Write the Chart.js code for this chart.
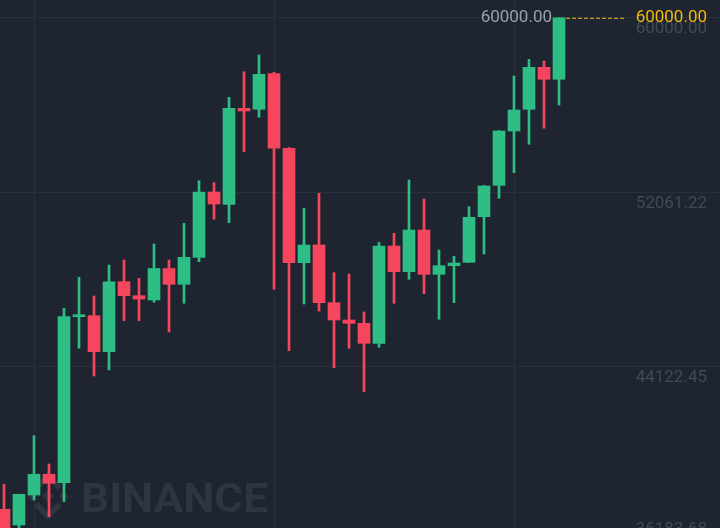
<!DOCTYPE html>
<html>
<head>
<meta charset="utf-8">
<script src="https://cdn.jsdelivr.net/npm/chart.js@4.4.0/dist/chart.umd.min.js"></script>
<style>
  html, body { margin: 0; padding: 0; background: #1e2430; }
  #wrap { width: 720px; height: 528px; position: relative; }
</style>
</head>
<body>
<div id="wrap"><canvas id="c"></canvas></div>
<script>
// ---- data ----
const opens  = [37642,36928,38292,39234,38852,46403,46449,44811,47995,47359,47163,48596,47877,49105,52076,51507,55883,55838,57466,54064,48860,49665,47040,46253,46103,45193,49619,48450,50347,48332,48723,48878,50952,52381,54851,55838,57748,57203];
const closes = [36700,38324,39234,38825,46403,46467,44811,47995,47359,47208,48596,47877,49105,52076,51530,55883,55761,57430,54064,48860,49665,47040,46253,46103,45193,49619,48450,50347,48332,48723,48846,50925,52349,54851,55806,57748,57203,60000];
const highs  = [38779,38330,40990,39703,46786,48196,47345,48755,48983,48150,49710,48983,50652,52590,52499,56384,57548,58308,57520,54100,51334,52017,48405,48346,46617,49788,50197,52622,51757,49437,49151,51407,52370,54870,57353,58112,58035,60000];
const lows   = [36250,36609,38065,37305,37988,44966,43706,43979,46221,46221,47058,45707,47013,48905,50834,50679,53909,55474,47650,44857,46981,46663,44083,44966,42992,45011,47013,48105,47450,46285,47040,48870,49256,51789,52954,54246,54974,56034];
const priceTicks  = [60000, 52061.22, 44122.45, 36183.68];
const priceLabels = ["60000.00", "52061.22", "44122.45", "36183.68"];
const timeGridIdx = [2, 18, 34];
const lastPrice = 60000;
const lastPriceLabel = "60000.00";
const highMarkLabel = "60000.00";

const UP = '#2ebd85', DOWN = '#f6465d';
const colorAt = (i) => closes[i] >= opens[i] ? UP : DOWN;

const bodyData = opens.map((o, i) => ({ x: i, y: [o, closes[i]] }));
const wickData = lows.map((l, i) => ({ x: i, y: [l, highs[i]] }));

const overlay = {
  id: 'overlay',
  beforeDatasetsDraw(chart) {
    const ctx = chart.ctx;
    ctx.save();
    // watermark logo
    ctx.translate(48, 496);
    ctx.fillStyle = '#2f353f';
    ctx.strokeStyle = '#2f353f';
    const diamond = (cx, cy, r) => {
      ctx.beginPath();
      ctx.moveTo(cx, cy - r); ctx.lineTo(cx + r, cy); ctx.lineTo(cx, cy + r); ctx.lineTo(cx - r, cy);
      ctx.closePath(); ctx.fill();
    };
    diamond(0, 0, 6);
    diamond(-16, 0, 5);
    diamond(16, 0, 5);
    ctx.lineWidth = 6; ctx.lineJoin = 'miter';
    ctx.beginPath(); ctx.moveTo(-12, -8); ctx.lineTo(0, -20); ctx.lineTo(12, -8); ctx.stroke();
    ctx.beginPath(); ctx.moveTo(-12, 8); ctx.lineTo(0, 20); ctx.lineTo(12, 8); ctx.stroke();
    ctx.restore();
    // watermark text
    ctx.save();
    ctx.font = 'bold 40px Roboto';
    ctx.fillStyle = '#2f353f';
    ctx.textBaseline = 'alphabetic';
    const w = ctx.measureText('BINANCE').width;
    ctx.translate(81, 512);
    ctx.scale(187 / w, 1);
    ctx.fillText('BINANCE', 0, 0);
    ctx.restore();
  },
  afterDatasetsDraw(chart) {
    const ctx = chart.ctx;
    const y = chart.scales.y, x = chart.scales.x;
    const H = chart.height;
    ctx.save();
    ctx.font = '17px Roboto';
    ctx.textAlign = 'right';
    ctx.textBaseline = 'middle';
    // axis labels
    ctx.fillStyle = '#434a55';
    priceTicks.forEach((v, i) => {
      const py = y.getPixelForValue(v);
      const ly = Math.min(py + 11, H + 2);
      ctx.fillText(priceLabels[i], 707, ly);
    });
    // last price line + label
    const lp = y.getPixelForValue(lastPrice);
    const lastX = x.getPixelForValue(closes.length - 1);
    ctx.strokeStyle = '#f0b90b';
    ctx.lineWidth = 1;
    ctx.setLineDash([4, 2]);
    ctx.beginPath();
    ctx.moveTo(lastX + 7, lp + 0.5);
    ctx.lineTo(626, lp + 0.5);
    ctx.stroke();
    ctx.setLineDash([]);
    ctx.fillStyle = '#f0b90b';
    ctx.fillText(lastPriceLabel, 707, lp);
    // high marker label
    ctx.fillStyle = '#9aa1ab';
    ctx.fillText(highMarkLabel, lastX - 7, lp);
    ctx.restore();
  }
};

new Chart(document.getElementById('c'), {
  type: 'bar',
  data: {
    datasets: [
      {
        label: 'body',
        data: bodyData,
        backgroundColor: (c) => colorAt(c.dataIndex),
        barThickness: 12,
        minBarLength: 2,
        grouped: false,
        borderWidth: 0,
        borderSkipped: false,
        order: 0
      },
      {
        label: 'wick',
        data: wickData,
        backgroundColor: (c) => colorAt(c.dataIndex),
        barThickness: 2,
        grouped: false,
        borderWidth: 0,
        borderSkipped: false,
        order: 1
      }
    ]
  },
  options: {
    responsive: true,
    maintainAspectRatio: false,
    animation: false,
    devicePixelRatio: 1,
    layout: { padding: 0 },
    plugins: { legend: { display: false }, tooltip: { enabled: false }, title: { display: false } },
    scales: {
      x: {
        type: 'linear',
        min: -4 / 15,
        max: 720 / 15 - 4 / 15,
        offset: false,
        afterBuildTicks: (s) => { s.ticks = timeGridIdx.map(v => ({ value: v })); },
        ticks: { display: false },
        grid: { color: '#2a303b', drawTicks: false, lineWidth: 1, offset: false },
        border: { display: false }
      },
      y: {
        min: 36791,
        max: 60810,
        afterBuildTicks: (s) => { s.ticks = priceTicks.map(v => ({ value: v })); },
        ticks: { display: false },
        grid: { color: '#2a303b', drawTicks: false, lineWidth: 1 },
        border: { display: false }
      }
    }
  },
  plugins: [overlay]
});
</script>
</body>
</html>
